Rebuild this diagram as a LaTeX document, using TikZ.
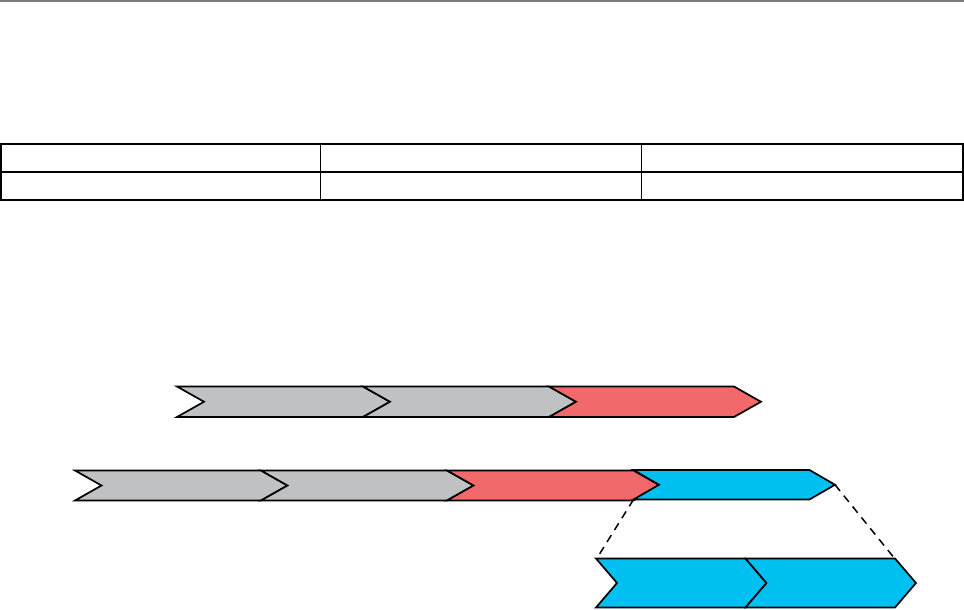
\documentclass[tikz,border=0pt]{standalone}
\usetikzlibrary{calc}
\definecolor{chgray}{HTML}{C0C1C3}
\definecolor{chred}{HTML}{F1696A}
\definecolor{chblue}{HTML}{00BFF1}
\definecolor{rulegray}{HTML}{7A7A7A}
\tikzset{
  chev/.style={draw=black, line width=1.7pt, line join=miter},
  tabline/.style={draw=black, line width=1.8pt},
  zoomline/.style={draw=black, line width=1.5pt, dash pattern=on 8pt off 6pt},
}
% \chevshape{name}{fill}{x0}{y0}{w}{h}{d}
\newcommand\chevshape[7]{%
  \path[chev, fill=#2] (#3,#4) coordinate (#1-tl)
    -- ++(#5,0) coordinate (#1-tr)
    -- ++(#7,#6/2) coordinate (#1-tip)
    -- ++(-#7,#6/2) coordinate (#1-br)
    -- ++(-#5,0) coordinate (#1-bl)
    -- ++(#7,-#6/2) coordinate (#1-notch)
    -- cycle;}
\begin{document}
\begin{tikzpicture}[x=1pt,y=-1pt]
\useasboundingbox (0,0) rectangle (964,610);
% top rule
\draw[rulegray, line width=2pt] (0,1) -- (964,1);
% table
\draw[tabline] (1,144) rectangle (963,200);
\draw[tabline] (1,172) -- (963,172);
\draw[tabline] (320.5,144) -- (320.5,200);
\draw[tabline] (641.5,144) -- (641.5,200);
% row 1
\chevshape{a1}{chgray}{177}{386.5}{186}{30.5}{27}
\chevshape{a2}{chgray}{363}{386.5}{186}{30.5}{27}
\chevshape{a3}{chred}{549}{386.5}{185}{30.5}{27}
% row 2
\chevshape{b1}{chgray}{75}{470.5}{186}{30}{26.5}
\chevshape{b2}{chgray}{261}{470.5}{186}{30}{26.5}
\chevshape{b3}{chred}{447}{470.5}{186.5}{30}{26.5}
\chevshape{b4}{chblue}{633.5}{470}{176}{29.5}{25.5}
% row 3
\chevshape{c1}{chblue}{596}{558.5}{149.5}{49}{21}
\chevshape{c2}{chblue}{745.5}{558.5}{149.5}{49}{21}
% zoom lines
\draw[zoomline] (b4-bl) -- ($(c1-tl)+(2,-2)$);
\draw[zoomline] (b4-tip) -- ($(c2-tr)+(-2,-2)$);
\end{tikzpicture}
\end{document}
